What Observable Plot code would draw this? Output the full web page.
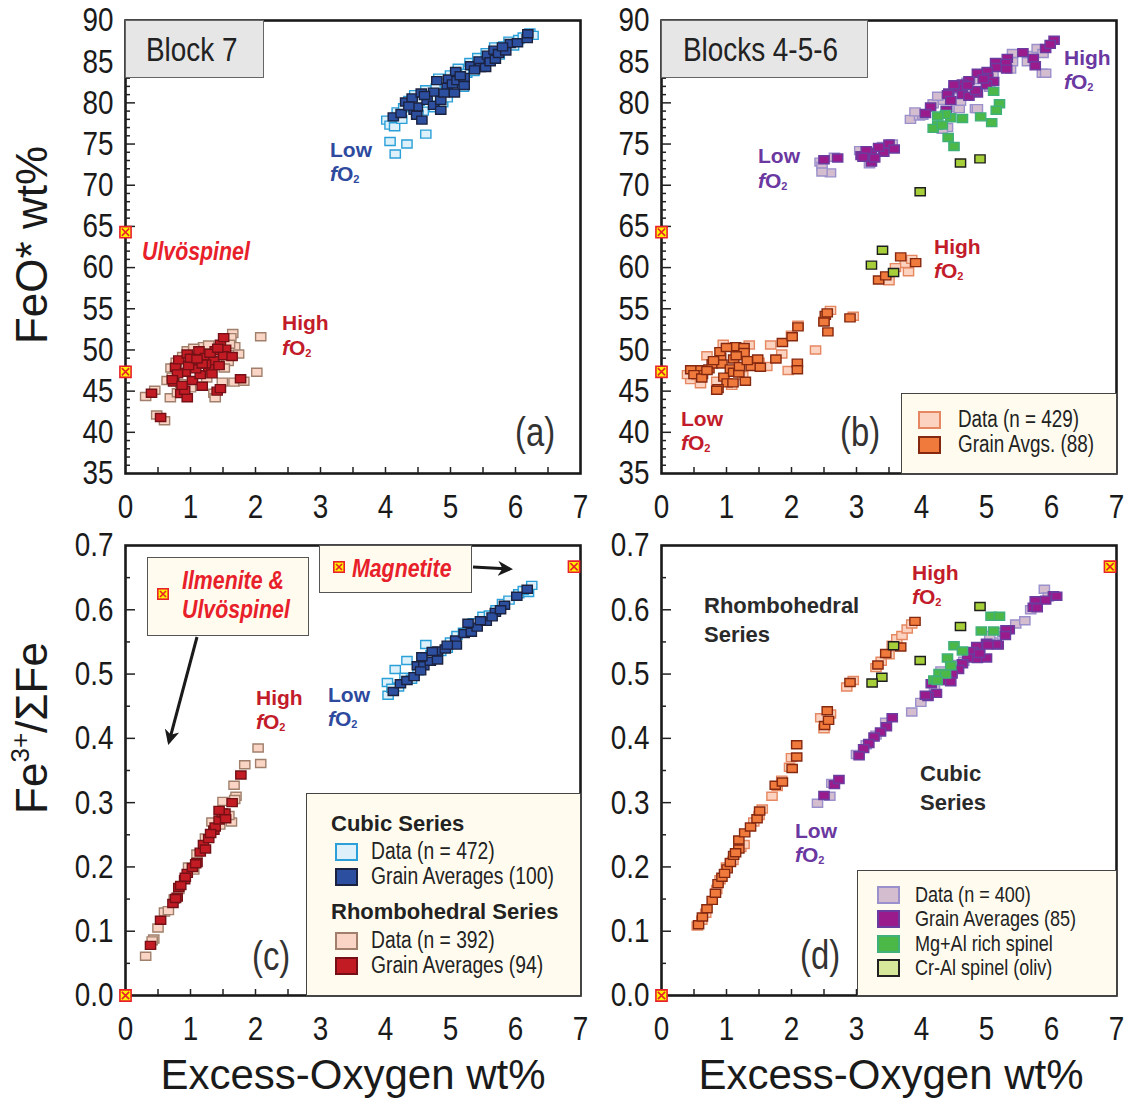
<!DOCTYPE html>
<html><head><meta charset="utf-8">
<script src="https://cdn.jsdelivr.net/npm/d3@7"></script>
<script src="https://cdn.jsdelivr.net/npm/@observablehq/plot@0.6"></script>
<style>
body{margin:0;background:#fff;}
#fig{position:relative;width:1130px;height:1099px;overflow:hidden;font-family:"Liberation Sans",Arial,sans-serif;color:#1a1a1a;}
.panel{position:absolute;}
.lab{position:absolute;white-space:nowrap;line-height:1;transform:translateY(-50%);}
.lab.nar{transform:translateY(-50%) scaleX(0.82);transform-origin:0 50%;line-height:0.85;}
.b21{font-weight:bold;font-size:21px;}
.box{position:absolute;box-sizing:border-box;}
.sw{position:absolute;box-sizing:border-box;width:23px;height:18px;border-width:2px;border-style:solid;}
.fo i{font-style:italic;}
.fo sub{font-size:11px;vertical-align:-2px;}
.rot{position:absolute;white-space:nowrap;line-height:1;font-size:44px;transform:translate(-50%,-50%) rotate(-90deg);}
</style></head>
<body><div id="fig"></div>
<script>
// ---------- tick labels ----------
const xTicks = [0,1,2,3,4,5,6,7];
const xMinor = [0.5,1,1.5,2,2.5,3,3.5,4,4.5,5,5.5,6,6.5];
const feoTicks = [35,40,45,50,55,60,65,70,75,80,85,90];
const feoMinor = [36,37,38,39,41,42,43,44,46,47,48,49,51,52,53,54,56,57,58,59,61,62,63,64,66,67,68,69,71,72,73,74,76,77,78,79,81,82,83,84,86,87,88,89];
const ratioTicks = [0,0.1,0.2,0.3,0.4,0.5,0.6,0.7];
const ratioMinor = [0.05,0.15,0.25,0.35,0.45,0.55,0.65];

// ---------- end-members ----------
const endFeO = [[0,64.3],[0,47.35]];          // Ulvöspinel, Ilmenite
const endRatio = [[0,0],[6.9,0.667]];          // Ilmenite/Ulvöspinel, Magnetite

// ---------- (a) Block 7 : FeO* vs excess O ----------
const a_cubicData = [[4.02,77.9],[4.07,77.3],[4.14,77.1],[4.07,75.3],[4.33,75.0],[4.15,73.8],[4.62,76.2],[4.18,78.9],[4.28,79.4],[4.36,80.3],[4.45,81.0],[4.52,80.2],[4.58,79.0],[4.62,81.6],[4.70,80.7],[4.78,81.8],[4.82,83.0],[4.88,80.0],[4.92,82.4],[5.00,83.4],[5.05,81.6],[5.12,84.2],[5.18,82.5],[5.25,83.6],[5.30,84.9],[5.36,83.8],[5.42,85.5],[5.50,84.6],[5.55,86.1],[5.62,85.4],[5.68,86.8],[5.75,85.8],[5.82,86.9],[5.90,87.5],[5.97,86.9],[6.05,87.7],[6.12,88.0],[6.22,88.5],[6.27,88.2],[4.25,78.0],[4.40,79.8],[4.95,80.6],[5.20,81.9],[4.50,78.6],[4.75,79.4]];
const a_cubicAvg = [[4.12,78.3],[4.24,78.7],[4.31,80.1],[4.41,80.6],[4.44,79.1],[4.49,79.5],[4.48,78.5],[4.56,77.9],[4.55,81.2],[4.64,80.3],[4.74,79.7],[4.74,81.3],[4.79,82.7],[4.85,80.3],[4.85,79.1],[4.95,81.9],[4.97,82.9],[5.03,82.3],[5.06,81.2],[5.08,83.8],[5.10,82.7],[5.21,83.1],[5.21,82.1],[5.31,84.5],[5.44,85.1],[5.46,84.3],[5.54,84.3],[5.57,85.8],[5.61,85.0],[5.67,86.4],[5.69,85.3],[5.74,86.0],[5.85,86.3],[5.92,87.2],[6.03,87.3],[6.18,87.8],[6.19,88.4],[4.36,79.6],[4.60,80.9],[4.90,81.2],[5.15,83.3],[5.37,84.0],[5.80,86.8]];
const a_rhombData = [[0.31,44.35],[0.45,45.1],[0.48,42.1],[0.60,41.4],[0.69,44.2],[0.64,46.3],[0.85,45.9],[1.49,46.1],[1.67,46.1],[1.82,46.2],[2.02,47.3],[2.08,51.6],[1.65,52.0],[1.68,50.4],[1.74,49.5],[1.36,44.75],[1.38,44.2],[1.13,45.6],[0.72,46.7],[0.95,49.9],[1.20,50.4],[1.54,51.1],[1.62,51.5],[0.78,48.5],[0.88,49.2],[1.05,50.2],[1.28,50.6],[1.40,49.0],[1.58,48.6],[1.25,46.6],[1.00,45.4],[0.80,44.8],[1.52,47.8],[1.60,50.7],[0.70,47.8]];
const a_rhombAvg = [[0.40,44.75],[0.54,41.8],[0.74,46.1],[0.77,47.9],[0.82,48.8],[0.95,49.5],[1.13,49.9],[1.23,49.1],[1.05,48.7],[0.92,47.3],[0.85,44.7],[0.95,44.2],[0.91,45.1],[1.03,46.3],[1.18,45.6],[1.15,47.0],[1.28,47.9],[1.36,48.7],[1.38,49.9],[1.46,50.7],[1.51,51.5],[1.54,50.1],[1.51,49.3],[1.64,49.2],[1.44,48.1],[1.23,48.3],[1.08,47.7],[0.80,47.1],[0.72,46.4],[1.41,45.0],[1.46,45.3],[1.77,46.5],[1.18,48.3],[1.33,47.1],[0.97,48.1],[0.87,45.7],[1.00,49.0],[1.10,48.9],[1.30,49.6],[1.42,50.2]];

// ---------- (b) Blocks 4-5-6 : FeO* vs excess O ----------
const b_rhombData = [[0.45,46.4],[0.55,46.9],[0.70,49.3],[0.95,50.7],[1.08,45.7],[1.35,50.6],[1.62,48.0],[1.85,49.5],[1.68,50.6],[2.10,53.0],[2.00,51.8],[1.95,47.5],[2.37,50.0],[2.50,53.5],[2.60,54.8],[2.95,54.1],[3.50,58.4],[3.80,59.5],[3.75,60.5],[3.85,61.0],[3.60,60.0],[0.60,45.9],[1.25,46.9],[1.50,48.5],[0.40,47.0],[0.85,46.2],[1.20,50.1]];
const b_rhombAvg = [[0.57,47.6],[0.63,47.0],[0.73,47.7],[0.78,48.3],[0.91,49.1],[0.93,48.3],[0.96,46.7],[1.01,46.0],[0.87,45.3],[1.06,47.7],[1.11,48.9],[1.14,50.4],[1.27,50.3],[1.27,49.7],[1.11,47.3],[1.19,47.2],[1.29,46.2],[1.38,48.0],[1.48,48.9],[1.52,47.9],[1.76,48.9],[1.86,50.9],[2.01,51.6],[2.10,52.8],[2.09,48.4],[2.09,47.6],[2.52,54.2],[2.55,54.5],[2.56,52.2],[2.90,53.9],[3.34,58.5],[3.45,59.0],[3.68,61.3],[3.91,60.6],[0.45,47.6],[0.50,47.0],[0.62,46.6],[0.70,47.5],[0.85,45.1],[0.90,49.8],[1.00,50.3],[1.15,49.3],[1.20,48.0],[1.32,48.7],[1.10,46.0],[0.80,48.7],[2.50,53.4]];
const b_cubicData = [[2.44,72.8],[2.47,72.3],[2.60,71.5],[2.47,71.6],[2.66,73.4],[3.17,73.4],[3.20,72.6],[3.05,74.2],[3.40,74.7],[3.55,75.0],[3.83,78.0],[3.97,78.4],[4.02,78.5],[4.18,79.9],[4.34,80.3],[4.40,77.0],[4.32,76.8],[4.55,79.4],[4.58,79.3],[4.83,79.3],[4.86,79.3],[5.36,84.3],[5.40,86.0],[5.37,84.1],[5.40,85.0],[5.70,85.75],[5.86,83.6],[5.91,83.6],[5.78,86.6],[5.63,85.0],[5.87,86.0],[4.25,80.8],[4.50,81.6],[4.70,82.5],[4.90,82.8],[5.10,83.5],[5.20,84.8],[4.60,80.2],[5.05,81.9],[3.90,78.9]];
const b_cubicAvg = [[6.04,87.6],[5.91,86.6],[5.98,87.1],[5.56,86.1],[5.72,85.4],[5.75,84.5],[5.32,85.4],[5.30,84.8],[5.31,84.1],[5.14,84.9],[5.15,84.3],[5.01,83.8],[5.02,83.1],[4.86,83.6],[5.11,82.6],[5.00,82.2],[4.86,81.2],[4.73,82.7],[4.63,82.3],[4.55,81.8],[4.63,81.0],[4.42,81.2],[4.40,81.0],[4.45,80.3],[4.73,80.8],[4.83,81.5],[4.14,79.5],[4.06,78.7],[4.38,79.1],[4.71,82.1],[4.95,82.9],[4.50,82.2],[2.50,73.1],[2.71,73.3],[3.07,73.6],[3.23,74.0],[3.23,72.8],[3.42,74.0],[3.50,75.0],[3.58,74.4],[3.34,74.6],[3.15,74.2],[3.10,73.4],[3.28,73.3]];
const b_mgAlSpinel = [[5.11,81.4],[5.20,79.9],[5.15,79.1],[5.08,77.6],[4.91,78.3],[4.63,78.1],[4.45,78.2],[4.37,78.6],[4.25,78.4],[4.25,77.3],[4.18,76.9],[4.41,75.8],[4.50,74.7],[4.32,77.3]];
const b_crAlSpinel = [[3.40,62.1],[3.23,60.3],[3.57,59.4],[4.60,72.7],[4.90,73.2],[3.98,69.2]];

// ---------- (c) Block 7 : Fe3+/ΣFe vs excess O ----------
const c_cubicData = [[4.04,0.467],[4.03,0.487],[4.15,0.507],[4.33,0.521],[4.62,0.546],[4.20,0.480],[4.30,0.495],[4.50,0.505],[4.70,0.530],[4.85,0.535],[5.00,0.550],[5.10,0.560],[5.20,0.565],[5.30,0.570],[5.40,0.578],[5.50,0.590],[5.60,0.592],[5.70,0.600],[5.80,0.610],[5.90,0.615],[6.05,0.625],[6.20,0.627],[6.25,0.638],[4.10,0.478],[4.40,0.492],[4.95,0.540],[5.35,0.580],[6.12,0.630]];
const c_cubicAvg = [[4.12,0.473],[4.23,0.485],[4.33,0.490],[4.44,0.496],[4.49,0.513],[4.59,0.513],[4.69,0.520],[4.56,0.527],[4.80,0.522],[4.80,0.536],[4.92,0.539],[5.08,0.553],[5.09,0.545],[5.21,0.563],[5.32,0.565],[5.41,0.573],[5.55,0.582],[5.69,0.596],[5.83,0.607],[6.02,0.621],[6.18,0.632],[5.27,0.579],[5.46,0.583],[5.64,0.589],[5.77,0.600],[4.95,0.545],[4.72,0.535],[4.54,0.505]];
const c_rhombData = [[0.31,0.061],[0.435,0.088],[0.41,0.085],[0.50,0.105],[0.60,0.130],[0.66,0.132],[1.50,0.302],[1.67,0.327],[1.70,0.310],[1.835,0.359],[2.08,0.361],[2.04,0.385],[1.63,0.270],[1.59,0.280],[1.33,0.270],[1.23,0.245],[1.10,0.220],[0.97,0.200],[0.82,0.165],[0.75,0.150],[1.68,0.305],[1.45,0.265],[1.05,0.195]];
const c_rhombAvg = [[0.385,0.078],[0.54,0.117],[0.73,0.143],[0.795,0.153],[0.82,0.168],[0.91,0.180],[0.95,0.190],[1.03,0.199],[1.10,0.207],[1.15,0.223],[1.20,0.235],[1.28,0.244],[1.36,0.257],[1.38,0.262],[1.44,0.273],[1.49,0.284],[1.53,0.284],[1.64,0.300],[1.775,0.343],[1.44,0.288],[1.23,0.228],[1.08,0.205],[0.92,0.184],[0.85,0.171],[0.77,0.151],[1.31,0.252],[1.54,0.275]];

// ---------- (d) Blocks 4-5-6 : Fe3+/ΣFe vs excess O ----------
const d_rhombData = [[0.55,0.108],[0.62,0.117],[0.68,0.128],[0.85,0.165],[0.90,0.180],[1.00,0.200],[1.10,0.210],[1.22,0.230],[1.27,0.235],[1.42,0.270],[1.50,0.280],[1.55,0.290],[1.70,0.310],[1.78,0.325],[1.85,0.335],[2.00,0.370],[1.97,0.355],[2.45,0.432],[2.50,0.415],[2.60,0.438],[2.85,0.480],[2.95,0.490],[3.30,0.510],[3.38,0.520],[3.55,0.545],[3.62,0.555],[3.70,0.560],[3.78,0.570],[3.85,0.578],[3.50,0.530]];
const d_rhombAvg = [[0.57,0.110],[0.63,0.122],[0.70,0.135],[0.78,0.148],[0.83,0.159],[0.87,0.174],[0.93,0.184],[1.01,0.197],[1.06,0.207],[1.11,0.218],[1.19,0.228],[1.19,0.242],[1.28,0.253],[1.37,0.262],[1.47,0.275],[1.51,0.287],[1.75,0.327],[1.86,0.332],[2.01,0.353],[2.08,0.371],[2.08,0.390],[2.51,0.420],[2.57,0.428],[2.55,0.443],[2.90,0.487],[3.33,0.514],[3.45,0.532],[3.68,0.542],[3.90,0.582],[0.97,0.190],[1.14,0.222]];
const d_cubicData = [[2.40,0.299],[2.59,0.310],[2.62,0.330],[3.00,0.375],[3.15,0.390],[3.30,0.405],[3.45,0.425],[3.85,0.441],[3.99,0.456],[4.20,0.478],[4.35,0.490],[4.55,0.515],[4.75,0.530],[4.90,0.540],[5.10,0.550],[5.25,0.565],[5.45,0.578],[5.59,0.583],[5.89,0.632],[5.68,0.600],[5.95,0.620],[4.42,0.503],[4.65,0.520],[5.05,0.560],[4.30,0.505]];
const d_cubicAvg = [[6.03,0.622],[5.91,0.615],[5.75,0.614],[5.72,0.604],[5.78,0.603],[6.08,0.621],[5.35,0.569],[5.30,0.569],[5.29,0.560],[5.18,0.545],[5.15,0.546],[5.00,0.548],[4.85,0.543],[4.79,0.535],[4.86,0.524],[4.71,0.525],[4.63,0.516],[4.57,0.507],[4.47,0.500],[4.39,0.490],[4.45,0.488],[4.23,0.470],[4.15,0.485],[4.10,0.465],[4.06,0.467],[5.00,0.525],[4.89,0.532],[5.02,0.545],[3.55,0.432],[3.46,0.418],[3.37,0.410],[3.27,0.402],[3.19,0.392],[3.11,0.384],[3.04,0.373],[2.50,0.311],[2.66,0.328],[2.73,0.336]];
const d_mgAlSpinel = [[5.07,0.590],[5.20,0.590],[4.92,0.567],[5.11,0.567],[4.50,0.544],[4.63,0.536],[4.40,0.525],[4.45,0.513],[4.27,0.501],[4.37,0.500],[4.19,0.491],[4.24,0.490]];
const d_crAlSpinel = [[4.90,0.605],[4.60,0.574],[3.98,0.521],[3.57,0.544],[3.39,0.495],[3.24,0.486]];

// ---------- styles ----------
const C = {
  cubicDataA:{fill:"#def1fa",stroke:"#2a9fd8"}, cubicAvgA:{fill:"#2d4fa0",stroke:"#1b2240"},
  rhombDataA:{fill:"#fad4c4",stroke:"#a0806c"}, rhombAvgA:{fill:"#c21b24",stroke:"#741015"},
  rhombDataB:{fill:"#fcd3c0",stroke:"#e58760"}, rhombAvgB:{fill:"#f07a3c",stroke:"#852810"},
  cubicDataB:{fill:"#d4bdcf",stroke:"#9a90cc"}, cubicAvgB:{fill:"#9a1c8c",stroke:"#6a3ca0"},
  mgAl:{fill:"#4cb848",stroke:"#40b07a"}, crAl:{fill:"#a6cf3a",stroke:"#1e1e1e"}
};
const rectSym = {draw(ctx, size){ const r = Math.sqrt(size/Math.PI); const w = 2.05*r, h = 1.6*r; ctx.rect(-w/2,-h/2,w,h); ctx.closePath(); }};
const FONT = '"Liberation Sans",Arial,sans-serif';

function makePanel({left, top, marginTop, yDomain, yTicks, yMinor, yFmt, series, ends}) {
  const inner = yTicks === feoTicks ? 453 : 450;
  const H = 540;
  const marks = [];
  for (const s of series) {
    marks.push(Plot.dot(s.data, {x: d => d[0], y: d => d[1], symbol: rectSym, r: 5, fill: s.c.fill, stroke: s.c.stroke, strokeWidth: 1.4}));
  }
  marks.push(Plot.frame({stroke: "#1a1a1a", strokeWidth: 2.6}));
  marks.push(Plot.axisX(xMinor, {tickSize: 6, dy: -6, tickFormat: () => "", stroke: "#222", strokeWidth: 1.5}));
  marks.push(Plot.axisY(yMinor, {tickSize: 5, dx: 5, tickFormat: () => "", stroke: "#222", strokeWidth: 1.5}));
  marks.push(Plot.axisY(yTicks.slice(1, -1), {tickSize: 10, dx: 10, tickFormat: () => "", stroke: "#222", strokeWidth: 1.5}));
  marks.push(Plot.axisX(xTicks, {tickSize: 0, tickPadding: 20, fontSize: 34, fill: "#1a1a1a"}));
  marks.push(Plot.axisY(yTicks, {tickSize: 0, tickPadding: 12, fontSize: 34, fill: "#1a1a1a", tickFormat: yFmt}));
  marks.push(Plot.dot(ends, {x: d => d[0], y: d => d[1], symbol: "square", r: 6.3, fill: "#fff200", stroke: "#e8202a", strokeWidth: 1.6}));
  marks.push(Plot.dot(ends, {x: d => d[0], y: d => d[1], symbol: "times", r: 3.4, stroke: "#e8202a", strokeWidth: 1.6}));
  const svg = Plot.plot({
    width: 600, height: H, marginLeft: 125, marginRight: 20, marginTop, marginBottom: H - marginTop - inner,
    x: {domain: [0, 7]}, y: {domain: yDomain},
    style: {background: "transparent", overflow: "visible", fontFamily: FONT, color: "#1a1a1a", maxWidth: "none"},
    marks
  });
  // narrow (condensed) look for tick labels
  svg.querySelectorAll('g[aria-label$="tick label"] text').forEach(t => {
    if (!t.textContent) return;
    const tr = t.getAttribute("transform") || "";
    const x = +t.getAttribute("x") || 0, y = +t.getAttribute("y") || 0;
    t.setAttribute("transform", `${tr} translate(${x},${y}) scale(0.82,1) translate(${-x},${-y})`);
  });
  const div = document.createElement("div");
  div.className = "panel";
  div.style.left = left + "px"; div.style.top = top + "px";
  div.appendChild(svg);
  fig.appendChild(div);
}

const fig = document.getElementById("fig");
const fmt1 = d3.format(".1f");
makePanel({left: 0, top: 0, marginTop: 20, yDomain: [35, 90], yTicks: feoTicks, yMinor: feoMinor, yFmt: d => d, ends: endFeO,
  series: [{data: a_cubicData, c: C.cubicDataA}, {data: a_cubicAvg, c: C.cubicAvgA}, {data: a_rhombData, c: C.rhombDataA}, {data: a_rhombAvg, c: C.rhombAvgA}]});
makePanel({left: 536, top: 0, marginTop: 20, yDomain: [35, 90], yTicks: feoTicks, yMinor: feoMinor, yFmt: d => d, ends: endFeO,
  series: [{data: b_rhombData, c: C.rhombDataB}, {data: b_rhombAvg, c: C.rhombAvgB}, {data: b_cubicData, c: C.cubicDataB}, {data: b_cubicAvg, c: C.cubicAvgB}, {data: b_mgAlSpinel, c: C.mgAl}, {data: b_crAlSpinel, c: C.crAl}]});
makePanel({left: 0, top: 520, marginTop: 25, yDomain: [0, 0.7], yTicks: ratioTicks, yMinor: ratioMinor, yFmt: fmt1, ends: endRatio,
  series: [{data: c_cubicData, c: C.cubicDataA}, {data: c_cubicAvg, c: C.cubicAvgA}, {data: c_rhombData, c: C.rhombDataA}, {data: c_rhombAvg, c: C.rhombAvgA}]});
makePanel({left: 536, top: 520, marginTop: 25, yDomain: [0, 0.7], yTicks: ratioTicks, yMinor: ratioMinor, yFmt: fmt1, ends: endRatio,
  series: [{data: d_rhombData, c: C.rhombDataB}, {data: d_rhombAvg, c: C.rhombAvgB}, {data: d_cubicData, c: C.cubicDataB}, {data: d_cubicAvg, c: C.cubicAvgB}, {data: d_mgAlSpinel, c: C.mgAl}, {data: d_crAlSpinel, c: C.crAl}]});

// ---------- overlays ----------
function el(tag, cls, css, html) {
  const e = document.createElement(tag);
  if (cls) e.className = cls;
  Object.assign(e.style, css);
  if (html != null) e.innerHTML = html;
  fig.appendChild(e);
  return e;
}
function lab(html, x, cy, cls, css) { return el("div", "lab " + (cls || ""), Object.assign({left: x + "px", top: cy + "px"}, css || {}), html); }
function box(x, y, w, h, bg, border) { return el("div", "box", {left: x + "px", top: y + "px", width: w + "px", height: h + "px", background: bg, border: border}); }
function sw(x, y, c) { return el("div", "sw", {left: x + "px", top: y + "px", background: c.fill, borderColor: c.stroke}); }
const FO = '<span class="fo"><i>f</i>O<sub>2</sub></span>';
const marker = '<svg width="12" height="12" style="display:block"><rect x="0.8" y="0.8" width="10.4" height="10.4" fill="#fff200" stroke="#e8202a" stroke-width="1.6"/><path d="M3,3L9,9M9,3L3,9" stroke="#e8202a" stroke-width="1.6"/></svg>';
function mark(x, y) { el("div", "", {position: "absolute", left: (x - 6) + "px", top: (y - 6) + "px"}, marker); }

const BLUE = "#2d4a9e", RED = "#c21b2a", PURP = "#6a38a0", BRED = "#e8202a";

// axis titles
el("div", "rot", {left: "32px", top: "245px"}, "FeO* wt%");
el("div", "rot", {left: "32px", top: "728px"}, 'Fe<sup style="font-size:26px;vertical-align:18px;line-height:0">3+</sup>/ΣFe');
el("div", "lab", {left: "353px", top: "1075px", fontSize: "42px", transform: "translate(-50%,-50%)"}, "Excess-Oxygen wt%");
el("div", "lab", {left: "891px", top: "1075px", fontSize: "42px", transform: "translate(-50%,-50%)"}, "Excess-Oxygen wt%");

// (a)
box(125, 20, 139, 58, "#e6e6e6", "1.5px solid #666");
lab("Block 7", 146, 49, "nar", {fontSize: "34px", color: "#222"});
lab("(a)", 515, 432, "nar", {fontSize: "40px", color: "#333"});
lab("Low", 330, 149, "b21", {color: BLUE}); lab(FO, 330, 174, "b21", {color: BLUE});
lab("<i>Ulvöspinel</i>", 142, 251, "nar", {fontSize: "26px", fontWeight: "bold", color: BRED});
lab("High", 282, 322, "b21", {color: RED}); lab(FO, 282, 348, "b21", {color: RED});

// (b)
box(661, 20, 207, 58, "#e6e6e6", "1.5px solid #666");
lab("Blocks 4-5-6", 683, 49, "nar", {fontSize: "34px", color: "#222"});
lab("(b)", 840, 432, "nar", {fontSize: "40px", color: "#333"});
lab("High", 1064, 57, "b21", {color: PURP}); lab(FO, 1064, 82, "b21", {color: PURP});
lab("Low", 758, 155, "b21", {color: PURP}); lab(FO, 758, 181, "b21", {color: PURP});
lab("High", 934, 246, "b21", {color: RED}); lab(FO, 934, 271, "b21", {color: RED});
lab("Low", 681, 418, "b21", {color: RED}); lab(FO, 681, 443, "b21", {color: RED});
box(901, 393, 216, 81, "#fffcef", "1.5px solid #444");
sw(918, 411, C.rhombDataB); lab("Data (n = 429)", 958, 420, "nar", {fontSize: "23px", color: "#222"});
sw(918, 436, C.rhombAvgB); lab("Grain Avgs. (88)", 958, 445, "nar", {fontSize: "23px", color: "#222"});

// (c)
box(147, 557, 162, 79, "#fffcef", "1.5px solid #555");
mark(163, 594);
lab("<i>Ilmenite &amp;</i>", 182, 580, "nar", {fontSize: "26px", fontWeight: "bold", color: BRED});
lab("<i>Ulvöspinel</i>", 182, 609, "nar", {fontSize: "26px", fontWeight: "bold", color: BRED});
box(319, 545, 153, 48, "#fffcef", "1.5px solid #555");
mark(339, 567);
lab("<i>Magnetite</i>", 352, 568, "nar", {fontSize: "26px", fontWeight: "bold", color: BRED});
lab("(c)", 252, 956, "nar", {fontSize: "40px", color: "#333"});
lab("High", 256, 697, "b21", {color: RED}); lab(FO, 256, 722, "b21", {color: RED});
lab("Low", 328, 694, "b21", {color: BLUE}); lab(FO, 328, 719, "b21", {color: BLUE});
box(306, 793, 275, 203, "#fffcef", "1.5px solid #444");
lab("Cubic Series", 331, 824, "", {fontSize: "22px", fontWeight: "bold", color: "#222"});
sw(335, 843, C.cubicDataA); lab("Data (n = 472)", 371, 852, "nar", {fontSize: "23.5px", color: "#222"});
sw(335, 868, C.cubicAvgA); lab("Grain Averages (100)", 371, 877, "nar", {fontSize: "23.5px", color: "#222"});
lab("Rhombohedral Series", 331, 912, "", {fontSize: "22px", fontWeight: "bold", color: "#222"});
sw(335, 932, C.rhombDataA); lab("Data (n = 392)", 371, 941, "nar", {fontSize: "23.5px", color: "#222"});
sw(335, 957, C.rhombAvgA); lab("Grain Averages (94)", 371, 966, "nar", {fontSize: "23.5px", color: "#222"});

// (d)
lab("Rhombohedral", 704, 606, "", {fontSize: "22px", fontWeight: "bold", color: "#2a2a2a"});
lab("Series", 704, 635, "", {fontSize: "22px", fontWeight: "bold", color: "#2a2a2a"});
lab("High", 912, 572, "b21", {color: RED}); lab(FO, 912, 597, "b21", {color: RED});
lab("Cubic", 920, 774, "", {fontSize: "22px", fontWeight: "bold", color: "#2a2a2a"});
lab("Series", 920, 803, "", {fontSize: "22px", fontWeight: "bold", color: "#2a2a2a"});
lab("Low", 795, 830, "b21", {color: PURP}); lab(FO, 795, 855, "b21", {color: PURP});
lab("(d)", 800, 955, "nar", {fontSize: "40px", color: "#333"});
box(857, 870, 260, 126, "#fffcef", "1.5px solid #444");
sw(877, 886, C.cubicDataB); lab("Data (n = 400)", 915, 895, "nar", {fontSize: "22px", color: "#222"});
sw(877, 910, C.cubicAvgB); lab("Grain Averages (85)", 915, 919, "nar", {fontSize: "22px", color: "#222"});
sw(877, 935, C.mgAl); lab("Mg+Al rich spinel", 915, 944, "nar", {fontSize: "22px", color: "#222"});
sw(877, 959, {fill: "#d8e89a", stroke: "#222"}); lab("Cr-Al spinel (oliv)", 915, 968, "nar", {fontSize: "22px", color: "#222"});

// arrows
const ns = "http://www.w3.org/2000/svg";
const ov = document.createElementNS(ns, "svg");
ov.setAttribute("width", 1130); ov.setAttribute("height", 1099);
ov.style.position = "absolute"; ov.style.left = "0"; ov.style.top = "0"; ov.style.pointerEvents = "none";
ov.innerHTML = '<defs><marker id="ah" viewBox="0 0 10 10" refX="8" refY="5" markerWidth="5" markerHeight="5" orient="auto"><path d="M0,0L10,5L0,10L3,5Z" fill="#1a1a1a"/></marker></defs>' +
  '<line x1="197" y1="637" x2="169" y2="742" stroke="#1a1a1a" stroke-width="3" marker-end="url(#ah)"/>' +
  '<line x1="473" y1="567" x2="510" y2="569" stroke="#1a1a1a" stroke-width="3" marker-end="url(#ah)"/>';
fig.appendChild(ov);
</script>
</body></html>
